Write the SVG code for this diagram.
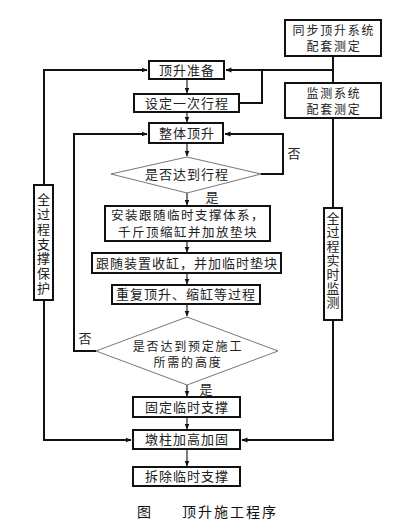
<svg xmlns="http://www.w3.org/2000/svg" width="408" height="523" viewBox="0 0 408 523">
<style>
.box{fill:#fff;stroke:#111;stroke-width:2}
.dia{fill:#fff;stroke:#777;stroke-width:1}
.t{font-family:"Noto Sans CJK SC","Noto Sans",sans-serif;font-size:13px;fill:#222;text-anchor:middle;letter-spacing:1px}
.t2{font-family:"Noto Sans CJK SC","Noto Sans",sans-serif;font-size:12px;fill:#222;text-anchor:middle;letter-spacing:1.8px}
.t3{font-family:"Noto Sans CJK SC","Noto Sans",sans-serif;font-size:12.5px;fill:#222;text-anchor:middle;letter-spacing:1.5px}
.lbl{font-family:"Noto Sans CJK SC","Noto Sans",sans-serif;font-size:13px;fill:#222;text-anchor:middle}
.vt{font-family:"Noto Sans CJK SC","Noto Sans",sans-serif;font-size:13px;fill:#222;writing-mode:vertical-rl;text-anchor:start}
.cap{font-family:"Noto Sans CJK SC","Noto Sans",sans-serif;font-size:14px;fill:#111;text-anchor:middle;letter-spacing:2px}
.loop{fill:none;stroke:#111;stroke-width:2}
.ar{fill:none;stroke:#222;stroke-width:1.2}
</style>
<defs>
<marker id="ah" markerWidth="6" markerHeight="6" refX="5.5" refY="3" orient="auto" markerUnits="userSpaceOnUse">
<path d="M0,0.5 L6,3 L0,5.5 Z" fill="#111"/>
</marker>
</defs>
<rect width="408" height="523" fill="#fff"/>
<g id="connectors">
<line class="loop" x1="333" y1="56" x2="333" y2="83"/>
<polyline class="loop" points="333,70 226,70" marker-end="url(#ah)"/>
<polyline class="loop" points="239,103 262,103 262,70"/>
<polyline class="loop" points="44,185 44,70 147,70" marker-end="url(#ah)"/>
<line class="ar" x1="187" y1="79" x2="187" y2="93" marker-end="url(#ah)"/>
<line class="ar" x1="187" y1="112" x2="187" y2="122" marker-end="url(#ah)"/>
<line class="ar" x1="187" y1="143" x2="187" y2="156" marker-end="url(#ah)"/>
<polyline class="loop" points="261,174 283,174 283,134 225,134" marker-end="url(#ah)"/>
<line class="ar" x1="187" y1="193" x2="187" y2="205" marker-end="url(#ah)"/>
<line class="ar" x1="187" y1="241" x2="187" y2="252" marker-end="url(#ah)"/>
<line class="ar" x1="187" y1="273" x2="187" y2="284" marker-end="url(#ah)"/>
<line class="ar" x1="187" y1="304" x2="187" y2="316" marker-end="url(#ah)"/>
<polyline class="loop" points="96,351 74,351 74,134 147,134" marker-end="url(#ah)"/>
<line class="ar" x1="187" y1="385" x2="187" y2="396" marker-end="url(#ah)"/>
<line class="ar" x1="187" y1="417" x2="187" y2="429" marker-end="url(#ah)"/>
<line class="ar" x1="187" y1="449" x2="187" y2="466" marker-end="url(#ah)"/>
<polyline class="loop" points="44,300 44,440 131,440" marker-end="url(#ah)"/>
<line class="loop" x1="333" y1="118" x2="333" y2="208"/>
<polyline class="loop" points="333,320 333,440 242,440" marker-end="url(#ah)"/>
</g>
<g id="sync">
<rect class="box" x="285" y="20" width="96" height="36"/>
<text class="t2" x="334" y="35">同步顶升系统</text>
<text class="t2" x="334" y="51">配套测定</text>
</g>
<g id="monitor-sys">
<rect class="box" x="285" y="83" width="96" height="35"/>
<text class="t2" x="334" y="98">监测系统</text>
<text class="t2" x="334" y="114">配套测定</text>
</g>
<g id="prep">
<rect class="box" x="149" y="61" width="75" height="18"/>
<text class="t" x="187" y="75">顶升准备</text>
</g>
<g id="set">
<rect class="box" x="134" y="94" width="105" height="18"/>
<text class="t" x="187" y="108">设定一次行程</text>
</g>
<g id="lift">
<rect class="box" x="149" y="123" width="74" height="20"/>
<text class="t" x="187" y="138">整体顶升</text>
</g>
<g id="dec1">
<polygon class="dia" points="187,157 261,174 187,193 111,174"/>
<text class="t" x="187" y="179">是否达到行程</text>
</g>
<g id="install">
<rect class="box" x="105" y="206" width="165" height="35"/>
<text class="t3" x="188" y="219.5">安装跟随临时支撑体系，</text>
<text class="t3" x="188" y="237">千斤顶缩缸并加放垫块</text>
</g>
<g id="retract">
<rect class="box" x="92" y="253" width="189" height="20"/>
<text class="t" x="187" y="268">跟随装置收缸，并加临时垫块</text>
</g>
<g id="repeat">
<rect class="box" x="112" y="285" width="148" height="19"/>
<text class="t" x="186" y="299">重复顶升、缩缸等过程</text>
</g>
<g id="dec2">
<polygon class="dia" points="187,317 278,351 187,385 96,351"/>
<text class="t2" x="188" y="351">是否达到预定施工</text>
<text class="t2" x="188" y="367">所需的高度</text>
</g>
<g id="fix">
<rect class="box" x="133" y="397" width="107" height="20"/>
<text class="t" x="187" y="412">固定临时支撑</text>
</g>
<g id="pier">
<rect class="box" x="133" y="430" width="107" height="19"/>
<text class="t" x="187" y="444">墩柱加高加固</text>
</g>
<g id="remove">
<rect class="box" x="133" y="467" width="107" height="19"/>
<text class="t" x="187" y="481">拆除临时支撑</text>
</g>
<g id="support">
<rect class="box" x="34" y="185" width="19" height="115"/>
<text class="vt" x="43.5" y="193" style="letter-spacing:1.7px">全过程支撑保护</text>
</g>
<g id="monitor">
<rect class="box" x="324" y="208" width="18" height="112"/>
<text class="vt" x="333" y="212" style="letter-spacing:1px">全过程实时监测</text>
</g>
<g id="labels">
<text class="lbl" x="294" y="158">否</text>
<text class="lbl" x="212" y="202">是</text>
<text class="lbl" x="85" y="343">否</text>
<text class="lbl" x="206" y="394">是</text>
</g>
<g id="caption">
<text class="cap" x="145" y="517">图</text>
<text class="cap" x="230" y="517">顶升施工程序</text>
</g>
</svg>
